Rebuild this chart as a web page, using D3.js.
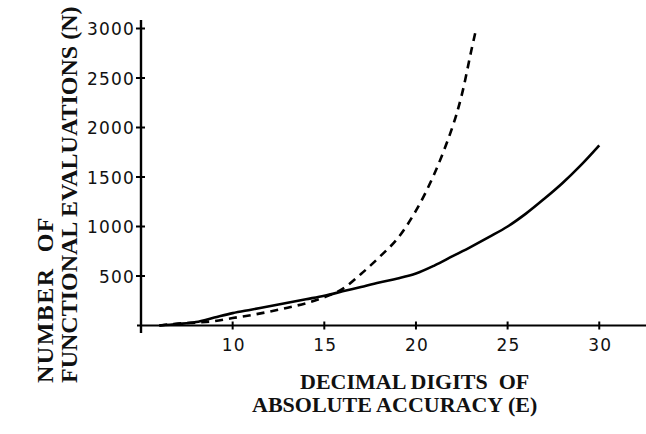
<!DOCTYPE html>
<html>
<head>
<meta charset="utf-8">
<script src="https://cdn.jsdelivr.net/npm/d3@7"></script>
<style>
  body { margin: 0; background: #fff; }
  svg { display: block; }
  .tick-label { font-family: "DejaVu Sans", sans-serif; font-size: 17px; letter-spacing: 1.2px; fill: #111; }
  .title { font-family: "Liberation Serif", "Times New Roman", serif; font-weight: bold; fill: #111; }
</style>
</head>
<body>
<svg id="chart" width="646" height="434"></svg>
<script>
// solid curve: digits of accuracy vs. function evaluations
const solidDigits = [6, 7, 8, 9, 10, 11, 12, 13, 14, 15, 16, 17, 18, 19, 20, 21, 22, 23, 24, 25, 26, 27, 28, 29, 30];
const solidEvals  = [0, 15, 35, 80, 125, 160, 195, 230, 265, 300, 345, 390, 435, 475, 525, 605, 700, 795, 895, 1000, 1130, 1280, 1440, 1620, 1820];

// dashed curve
const dashedDigits = [6, 7, 8, 9, 10, 11, 12, 13, 14, 15, 16, 17, 18, 19, 20, 21, 22, 22.5, 23, 23.3];
const dashedEvals  = [0, 20, 30, 45, 75, 105, 140, 180, 225, 285, 370, 520, 690, 880, 1160, 1530, 2010, 2330, 2760, 3010];

const xTicks = [10, 15, 20, 25, 30];
const yTicks = [500, 1000, 1500, 2000, 2500, 3000];

const svg = d3.select("#chart");

const x = d3.scaleLinear().domain([5, 32.55]).range([141, 646]);
const y = d3.scaleLinear().domain([0, 3000]).range([325.5, 28.5]);

// axes lines
svg.append("line")
    .attr("x1", x(5)).attr("x2", x(5))
    .attr("y1", 20).attr("y2", 333)
    .attr("stroke", "#000").attr("stroke-width", 2.4);
svg.append("line")
    .attr("x1", 137).attr("x2", 646)
    .attr("y1", y(0)).attr("y2", y(0))
    .attr("stroke", "#000").attr("stroke-width", 2);

// tick marks on x axis
svg.selectAll("line.xtick").data(xTicks).enter().append("line")
    .attr("class", "xtick")
    .attr("x1", d => x(d)).attr("x2", d => x(d))
    .attr("y1", y(0) - 4).attr("y2", y(0) + 4)
    .attr("stroke", "#000").attr("stroke-width", 2);

svg.selectAll("text.xlab").data(xTicks).enter().append("text")
    .attr("class", "tick-label xlab")
    .attr("x", d => x(d) + 1)
    .attr("y", 351)
    .attr("text-anchor", "middle")
    .text(d => d);

// tick marks on y axis
svg.selectAll("line.ytick").data(yTicks).enter().append("line")
    .attr("class", "ytick")
    .attr("x1", x(5) - 5).attr("x2", x(5) + 4)
    .attr("y1", d => y(d)).attr("y2", d => y(d))
    .attr("stroke", "#000").attr("stroke-width", 2);

svg.selectAll("text.ylab").data(yTicks).enter().append("text")
    .attr("class", "tick-label ylab")
    .attr("x", 135)
    .attr("y", d => y(d) + 6.5)
    .attr("text-anchor", "end")
    .text(d => d);

// curves
const line = d3.line()
    .x(d => x(d[0]))
    .y(d => y(d[1]))
    .curve(d3.curveCatmullRom);

svg.append("path")
    .datum(d3.zip(solidDigits, solidEvals))
    .attr("d", line)
    .attr("fill", "none")
    .attr("stroke", "#000")
    .attr("stroke-width", 2.6);

svg.append("path")
    .datum(d3.zip(dashedDigits, dashedEvals))
    .attr("d", line)
    .attr("fill", "none")
    .attr("stroke", "#000")
    .attr("stroke-width", 2.6)
    .attr("stroke-dasharray", "8,6");

// axis titles
svg.append("text").attr("class", "title")
    .attr("x", 300).attr("y", 389)
    .style("font-size", "22px")
    .text("DECIMAL DIGITS\u00a0\u00a0OF");
svg.append("text").attr("class", "title")
    .attr("x", 252).attr("y", 412)
    .style("font-size", "22px")
    .text("ABSOLUTE ACCURACY (E)");

const yTitle = svg.append("g").attr("transform", "translate(0,383) rotate(-90)");
yTitle.append("text").attr("class", "title")
    .attr("x", 0).attr("y", 53)
    .style("font-size", "24px")
    .style("letter-spacing", "1.5px")
    .text("NUMBER\u00a0\u00a0OF");
yTitle.append("text").attr("class", "title")
    .attr("x", 0).attr("y", 77)
    .style("font-size", "24px")
    .text("FUNCTIONAL EVALUATIONS (N)");
</script>
</body>
</html>
